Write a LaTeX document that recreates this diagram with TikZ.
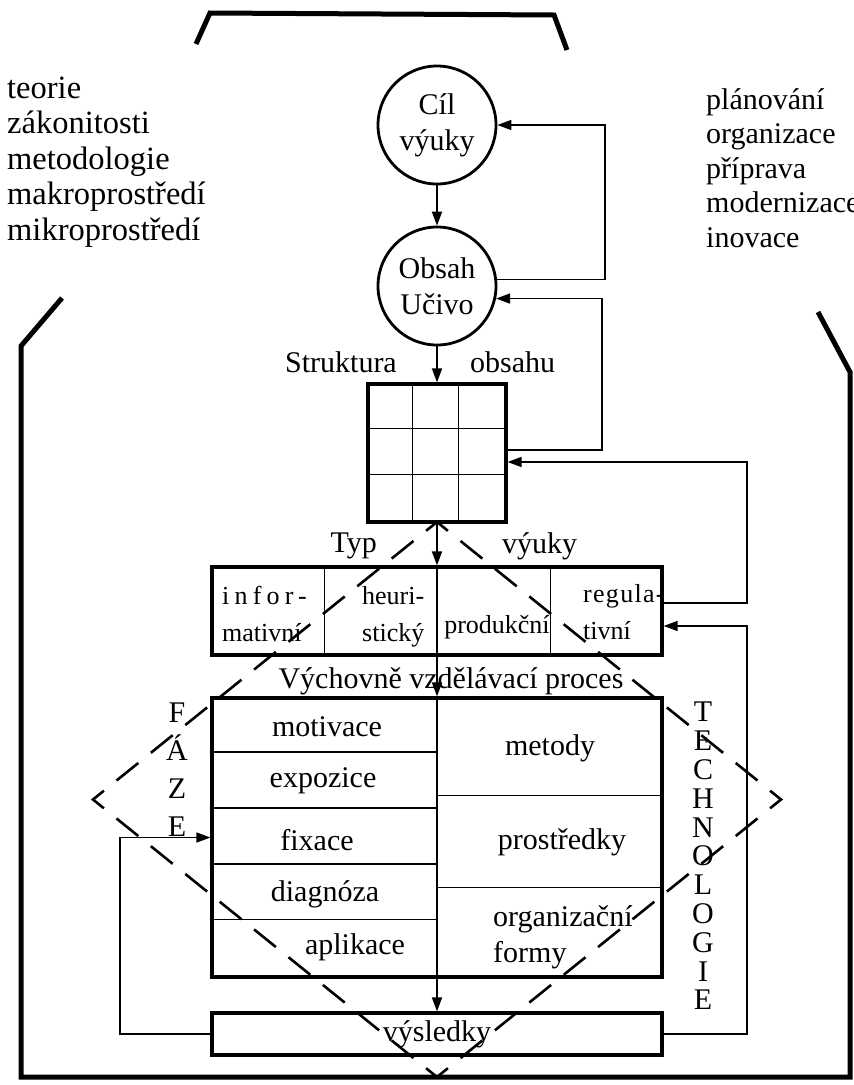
\documentclass[tikz,border=0pt]{standalone}
\usepackage{fontspec}
\setmainfont{Liberation Serif}
\newfontfamily\rozpal[LetterSpace=20]{Liberation Serif}
\newfontfamily\rozpalmene[LetterSpace=5]{Liberation Serif}
\usetikzlibrary{arrows.meta}

\begin{document}
\begin{tikzpicture}[x=1pt,y=-1pt,
		every node/.style={font=\fontsize{30}{36}\selectfont,inner sep=0pt},
		ramec/.style={line width=5pt},
		ramecek/.style={draw,line width=3.2pt},
		kruh/.style={draw,circle,line width=2.8pt,minimum size=118pt,align=center},
		tenka/.style={line width=1.5pt},
		sipka/.style={line width=1.8pt,-{Triangle[length=14pt,width=10pt]}},
		typtext/.style={font=\fontsize{26}{37}\selectfont,align=left},
		carkovana/.style={line width=2.6pt,dash pattern=on 28pt off 16.198pt,dash phase=14pt}]
		\useasboundingbox (0,0) rectangle (854,1085);
		%
		%frame
		\draw[ramec] (196,44) -- (210,13) -- (554,15) -- (567,50);
		\draw[ramec] (62,298) -- (21,346) -- (21,1077) -- (850,1077) -- (850,372) -- (818,312);
		%
		%lists
		\node[anchor=west,align=left,font=\fontsize{32.5}{35.4}\selectfont] (teorie) at (7,162) {teorie\\zákonitosti\\metodologie\\makroprostředí\\mikroprostředí};
		\node[anchor=west,align=left,font=\fontsize{30}{34.5}\selectfont] (planovani) at (706,168) {plánování\\organizace\\příprava\\modernizace\\inovace};
		%
		%goal and content
		\node[kruh] (cil) at (437,125) {Cíl\\výuky};
		\node[kruh] (obsah) at (437,286) {Obsah\\Učivo};
		\node[anchor=east] (struktura) at (397,362) {Struktura};
		\node[anchor=west] (obsahu) at (470,362) {obsahu};
		\node[ramecek,minimum width=138pt,minimum height=138pt] (mrizka) at (437,453) {};
		\foreach \i in {1,2} {
			\draw[tenka] ([xshift=\i*46pt]mrizka.north west) -- ([xshift=\i*46pt]mrizka.south west);
			\draw[tenka] ([yshift=-\i*46pt]mrizka.north west) -- ([yshift=-\i*46pt]mrizka.north east);
		}
		%
		%type
		\node[anchor=east] (typ0) at (377,546) {Typ};
		\node[anchor=west] (vyuky) at (502,546) {výuky};
		\node[ramecek,minimum width=450pt,minimum height=88pt] (typ) at (437,611) {};
		\foreach \d in {114,340}
			\draw[tenka] ([xshift=\d*1pt]typ.north west) -- ([xshift=\d*1pt]typ.south west);
		\draw[tenka] (typ.north) -- (typ.south);
		\node[typtext,anchor=west] (inf) at (222,614) {{\rozpal infor-}\\mativní};
		\node[typtext,anchor=west] (heu) at (362,617) {heuri-\\stický};
		\node[typtext] (pro) at (497,627) {produkční};
		\node[typtext,anchor=west] (reg) at (583,612) {{\rozpalmene regula-}\\tivní};
		%
		%process
		\node (vvp) at (451,681) {Výchovně vzdělávací proces};
		\node[ramecek,minimum width=450pt,minimum height=279pt] (proces) at (437,837.5) {};
		\draw[tenka] (proces.north) -- (proces.south);
		\foreach \k in {1,...,4}
			\draw[tenka] ([yshift=-\k*55.8pt]proces.north west) -- ([yshift=-\k*55.8pt]proces.north);
		\foreach \d in {99,191}
			\draw[tenka] ([yshift=-\d*1pt]proces.north) -- ([yshift=-\d*1pt]proces.north east);
		\node (motivace) at (327,727) {motivace};
		\node (expozice) at (323,781) {expozice};
		\node (fixace) at (317,840) {fixace};
		\node (diagnoza) at (325,894) {diagnóza};
		\node (aplikace) at (355,947) {aplikace};
		\node (metody) at (550,748) {metody};
		\node (prostredky) at (562,842) {prostředky};
		\node[anchor=west,align=left] (organizacni) at (493,937) {organizační\\formy};
		%
		%results
		\node[ramecek,minimum width=450pt,minimum height=42pt] (vysl) at (437,1034) {výsledky};
		%
		\node[align=center,font=\fontsize{30}{38}\selectfont] (faze) at (177,770) {F\\Á\\Z\\E};
		\node[align=center,font=\fontsize{30}{28.8}\selectfont] (technologie) at (703,856) {T\\E\\C\\H\\N\\O\\L\\O\\G\\I\\E};
		%
		%arrows
		\coordinate (p1) at (605,0);
		\coordinate (p2) at (602,0);
		\coordinate (p3) at (747,0);
		\coordinate (l1) at (120,0);
		\coordinate (m_in) at ([yshift=-9pt]mrizka.east);
		\coordinate (m_out) at ([yshift=3pt]mrizka.east);
		\coordinate (t_in) at ([yshift=-15pt]typ.east);
		\coordinate (t_out) at ([yshift=8pt]typ.east);
		\draw[sipka] (cil) -- (obsah);
		\draw[sipka] (obsah) -- (mrizka);
		\draw[sipka] (mrizka) -- (typ);
		\draw[sipka] (typ) -- (proces);
		\draw[sipka] (proces) -- (vysl);
		\draw[sipka,line width=1.5pt] (obsah.6) -| (p1 |- cil.east) -- (cil.east);
		\draw[sipka,line width=1.5pt] (m_out) -| (p2 |- obsah.-12) -- (obsah.-12);
		\draw[sipka,line width=1.5pt] (t_out) -| (p3 |- m_in) -- (m_in);
		\draw[sipka,line width=1.5pt] (vysl.east) -| (p3 |- t_in) -- (t_in);
		\draw[sipka,line width=1.5pt] (vysl.west) -| (l1 |- proces.west) -- (proces.west);
		%
		%diamond
		\draw[carkovana] (437,522) -- (93,799.5) -- (437,1077) -- (781,799.5) -- cycle;
	\end{tikzpicture}
\end{document}
